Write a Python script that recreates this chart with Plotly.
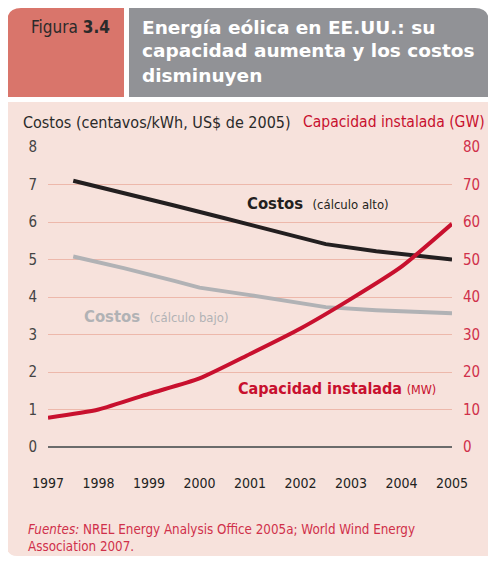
import plotly.graph_objects as go

# Data
cost_high_years = [1997.5, 1998.5, 1999.5, 2000.5, 2001.5, 2002.5, 2003.5, 2005]
cost_high = [7.10, 6.78, 6.44, 6.10, 5.76, 5.41, 5.22, 5.00]

cost_low_years = [1997.5, 1998.5, 1999.5, 2000, 2001, 2002, 2002.5, 2003.5, 2005]
cost_low = [5.08, 4.77, 4.43, 4.25, 4.05, 3.85, 3.73, 3.65, 3.57]

capacity_years = [1997, 1998, 1999, 2000, 2001, 2002, 2003, 2004, 2005]
capacity = [7.8, 10.0, 14.2, 18.3, 24.8, 31.6, 39.5, 48.1, 59.5]

year_ticks = list(range(1997, 2006))
cost_ticks = list(range(0, 9))
capacity_ticks = list(range(0, 90, 10))

# Colours
RED = "#c8102e"
RED_TXT = "#d0304a"
BLACK = "#231f20"
GREY = "#b1b2b5"
PANEL = "#f7e2dc"
GRID = "#edb8ab"
HEAD_RED = "#d9756b"
HEAD_GREY = "#919296"
NARROW = "DejaVu Sans Condensed, Arial Narrow, sans-serif"
WIDE = "DejaVu Sans, Verdana, sans-serif"

# the page body has an 8px margin, so the figure starts at (8, 8) on the page;
# keep it small enough that the page does not overflow the window
OFF = 8
W, H = 496 - 2 * OFF, 565 - 2 * OFF
L, R, T, B = 48, 452, 147, 447  # plot area in page pixels


def fx(px):
    return (px - L) / (R - L)


def fy(py):
    return (B - py) / (B - T)


def box_path(x0, y0, x1, y1, tl=0, tr=0, br=0, bl=0):
    def p(x, y):
        return f"{fx(x):.5f},{fy(y):.5f}"
    return (f"M {p(x0 + tl, y0)} L {p(x1 - tr, y0)} Q {p(x1, y0)} {p(x1, y0 + tr)} "
            f"L {p(x1, y1 - br)} Q {p(x1, y1)} {p(x1 - br, y1)} "
            f"L {p(x0 + bl, y1)} Q {p(x0, y1)} {p(x0, y1 - bl)} "
            f"L {p(x0, y0 + tl)} Q {p(x0, y0)} {p(x0 + tl, y0)} Z")


fig = go.Figure()

fig.add_trace(go.Scatter(x=cost_high_years, y=cost_high, mode="lines",
                         line=dict(color=BLACK, width=4), yaxis="y"))
fig.add_trace(go.Scatter(x=cost_low_years, y=cost_low, mode="lines",
                         line=dict(color=GREY, width=4), yaxis="y"))
fig.add_trace(go.Scatter(x=capacity_years, y=capacity, mode="lines",
                         line=dict(color=RED, width=4, shape="spline", smoothing=0.6),
                         yaxis="y2"))

shapes = [
    # panel background
    dict(type="path", xref="paper", yref="paper", layer="below",
         path=box_path(7, 102, 500, 556, bl=10), fillcolor=PANEL, line_width=0),
    # header boxes
    dict(type="path", xref="paper", yref="paper", layer="below",
         path=box_path(7, 8, 124, 97, tl=14), fillcolor=HEAD_RED, line_width=0),
    dict(type="path", xref="paper", yref="paper", layer="below",
         path=box_path(129, 8, 489, 97, tr=14), fillcolor=HEAD_GREY, line_width=0),
]

annotations = [
    dict(text="Figura <b>3.4</b>", x=fx(29), y=fy(27), xanchor="left", yanchor="middle",
         font=dict(family=NARROW, size=17, color="#2a2a2a")),
    dict(text="<b>Energía eólica en EE.UU.: su</b>", x=fx(140), y=fy(27),
         xanchor="left", yanchor="middle", font=dict(family=WIDE, size=18.5, color="white")),
    dict(text="<b>capacidad aumenta y los costos</b>", x=fx(140), y=fy(51),
         xanchor="left", yanchor="middle", font=dict(family=WIDE, size=18.5, color="white")),
    dict(text="<b>disminuyen</b>", x=fx(140), y=fy(75),
         xanchor="left", yanchor="middle", font=dict(family=WIDE, size=18.5, color="white")),
    dict(text="Costos (centavos/kWh, US$ de 2005)", x=fx(21), y=fy(122),
         xanchor="left", yanchor="middle", font=dict(family=NARROW, size=16, color="#2a2a2a")),
    dict(text="Capacidad instalada (GW)", x=fx(487), y=fy(122),
         xanchor="right", yanchor="middle", font=dict(family=NARROW, size=15.5, color=RED)),
    dict(text="<i>Fuentes:</i> NREL Energy Analysis Office 2005a; World Wind Energy<br>Association 2007.",
         x=fx(26), y=fy(520), xanchor="left", yanchor="top", align="left",
         font=dict(family=NARROW, size=13.3, color=RED_TXT)),
    # series labels
    dict(text="<b>Costos</b>  <span style='font-size:13px'>(cálculo alto)</span>",
         x=2000.9, y=6.5, xref="x", yref="y", xanchor="left", yanchor="middle",
         font=dict(family=NARROW, size=16.5, color=BLACK)),
    dict(text="<b>Costos</b>  <span style='font-size:13px'>(cálculo bajo)</span>",
         x=1997.68, y=3.49, xref="x", yref="y", xanchor="left", yanchor="middle",
         font=dict(family=NARROW, size=16.5, color=GREY)),
    dict(text="<b>Capacidad instalada</b> <span style='font-size:12.5px'>(MW)</span>",
         x=2000.72, y=1.55, xref="x", yref="y", xanchor="left", yanchor="middle",
         font=dict(family=NARROW, size=16, color=RED)),
]
for a in annotations:
    a.setdefault("xref", "paper")
    a.setdefault("yref", "paper")
    a["showarrow"] = False

fig.update_layout(
    width=W, height=H,
    margin=dict(l=L - OFF, r=W + OFF - R, t=T - OFF, b=H + OFF - B, autoexpand=False),
    paper_bgcolor="white",
    plot_bgcolor="rgba(0,0,0,0)",
    showlegend=False,
    shapes=shapes,
    annotations=annotations,
    xaxis=dict(range=[1997, 2005], tickvals=year_ticks, showgrid=False, zeroline=False,
               showline=False, ticks="", ticklabelstandoff=26,
               tickfont=dict(family=NARROW, size=14, color="#222")),
    yaxis=dict(range=[0, 8], tickvals=cost_ticks, showgrid=True, gridcolor=GRID,
               gridwidth=1, zeroline=True, zerolinecolor="#6b6b6b", zerolinewidth=2,
               showline=False, ticks="", ticklabelstandoff=10,
               tickfont=dict(family=NARROW, size=15, color="#444")),
    yaxis2=dict(range=[0, 80], tickvals=capacity_ticks, overlaying="y", side="right",
                showgrid=False, zeroline=False, showline=False, ticks="",
                ticklabelstandoff=10, tickfont=dict(family=NARROW, size=15, color=RED_TXT)),
)

fig.write_html("out.html")
